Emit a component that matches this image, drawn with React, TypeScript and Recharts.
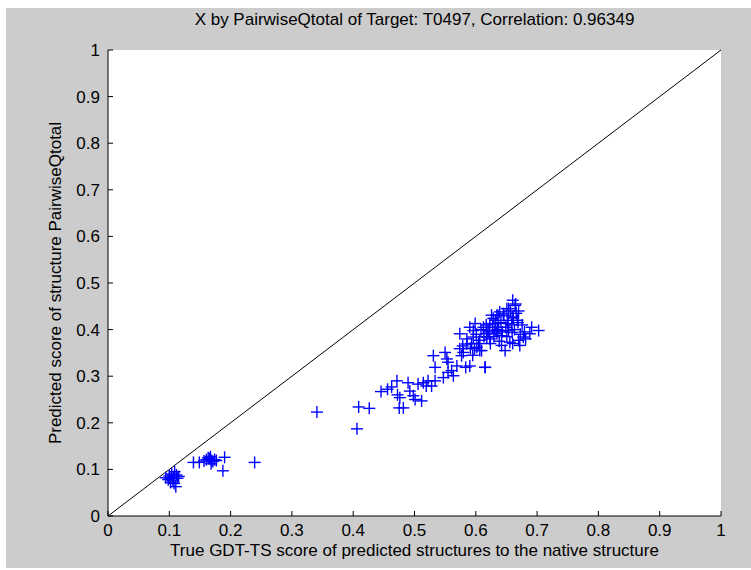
import React from 'react';
import { ScatterChart, Scatter, XAxis, YAxis, CartesianGrid } from 'recharts';

const xValues = [
  0.0943, 0.0982, 0.1001, 0.1020, 0.1039, 0.1058, 0.1068, 0.1087, 0.1106, 0.1116, 0.1135, 0.1154, 0.1020, 0.1077,
  0.1394, 0.1490, 0.1567, 0.1605, 0.1634, 0.1653, 0.1682, 0.1691, 0.1711, 0.1739, 0.1768, 0.1672, 0.1902, 0.1874, 0.2392,
  0.3408, 0.4061, 0.4089, 0.4262,
  0.4454, 0.4560, 0.4627, 0.4713, 0.4723, 0.4751, 0.4818, 0.4761, 0.4895, 0.4924, 0.4981, 0.5010, 0.5116, 0.5058,
  0.5144, 0.5221, 0.5279, 0.5192, 0.5336, 0.5308, 0.5336, 0.5471, 0.5528, 0.5547, 0.5499, 0.5547, 0.5605, 0.5634,
  0.5691, 0.5739, 0.5768, 0.5797, 0.5835, 0.5739, 0.5854, 0.5902, 0.5960, 0.5979, 0.6065, 0.6152, 0.6180, 0.6200,
  0.6257, 0.6315, 0.6344,
  0.7025, 0.6910, 0.6881, 0.6718, 0.6698, 0.6602, 0.6641, 0.6698, 0.6535, 0.6449, 0.6391, 0.6344, 0.6286, 0.6228,
  0.6123, 0.5989, 0.5960, 0.6478, 0.6555, 0.6420, 0.6593, 0.6516, 0.6372, 0.6180, 0.6152, 0.6017, 0.6094, 0.5902,
  0.5931, 0.6065, 0.6679, 0.6593, 0.6775, 0.6535, 0.6420, 0.6315, 0.6228,
  0.5787, 0.5854, 0.5912, 0.5950, 0.6008, 0.6046, 0.6085, 0.6133, 0.6171, 0.6219, 0.6238, 0.6276, 0.6295, 0.6324,
  0.6353, 0.6382, 0.6411, 0.6430, 0.6459, 0.6487, 0.6507, 0.6526, 0.6564, 0.6583, 0.6612, 0.6631, 0.6660, 0.6689,
  0.6727, 0.6756, 0.6794, 0.6813, 0.6650, 0.6507, 0.6363, 0.6602,
];

const yValues = [
  0.082, 0.078, 0.086, 0.080, 0.090, 0.076, 0.084, 0.095, 0.063, 0.088, 0.081, 0.085, 0.072, 0.070,
  0.115, 0.115, 0.118, 0.121, 0.125, 0.123, 0.112, 0.119, 0.117, 0.121, 0.119, 0.127, 0.126, 0.097, 0.115,
  0.223, 0.187, 0.234, 0.231,
  0.267, 0.272, 0.277, 0.290, 0.260, 0.232, 0.232, 0.254, 0.286, 0.268, 0.258, 0.250, 0.247, 0.283,
  0.286, 0.290, 0.279, 0.279, 0.290, 0.344, 0.319, 0.297, 0.337, 0.330, 0.351, 0.308, 0.312, 0.301,
  0.322, 0.359, 0.344, 0.351, 0.319, 0.391, 0.369, 0.405, 0.384, 0.359, 0.355, 0.319, 0.384, 0.398,
  0.431, 0.413, 0.391,
  0.398, 0.405, 0.391, 0.366, 0.377, 0.463, 0.452, 0.440, 0.445, 0.434, 0.438, 0.431, 0.424, 0.413,
  0.405, 0.413, 0.398, 0.355, 0.373, 0.387, 0.394, 0.413, 0.405, 0.391, 0.319, 0.362, 0.355, 0.322,
  0.370, 0.377, 0.420, 0.427, 0.384, 0.398, 0.366, 0.398, 0.380,
  0.365, 0.380, 0.360, 0.345, 0.390, 0.370, 0.400, 0.385, 0.410, 0.395, 0.370, 0.405, 0.385, 0.420,
  0.400, 0.375, 0.415, 0.395, 0.430, 0.405, 0.385, 0.420, 0.440, 0.410, 0.425, 0.400, 0.435, 0.415,
  0.390, 0.410, 0.395, 0.380, 0.455, 0.445, 0.430, 0.370,
];

const tickValues = [0, 0.1, 0.2, 0.3, 0.4, 0.5, 0.6, 0.7, 0.8, 0.9, 1];
const diagonalX = [0, 1];
const diagonalY = [0, 1];

const titleText = 'X by PairwiseQtotal of Target: T0497, Correlation: 0.96349';
const xLabelText = 'True GDT-TS score of predicted structures to the native structure';
const yLabelText = 'Predicted score of structure PairwiseQtotal';

const points = xValues.map((x, i) => ({ x, y: yValues[i] }));
const diagonal = diagonalX.map((x, i) => ({ x, y: diagonalY[i] }));

const FONT = '"Liberation Sans", Arial, Helvetica, sans-serif';
const tickStyle = { fill: '#000', fontSize: 17, fontFamily: FONT };

const Plus = (props: any) => {
  const { cx, cy } = props;
  if (cx == null || cy == null) return <g />;
  return (
    <g>
      <line x1={cx - 6} y1={cy} x2={cx + 6} y2={cy} stroke="#0000ff" strokeWidth={1.4} />
      <line x1={cx} y1={cy - 6} x2={cx} y2={cy + 6} stroke="#0000ff" strokeWidth={1.4} />
    </g>
  );
};

const Nothing = () => <g />;

export default function App() {
  return (
    <div style={{ position: 'absolute', left: 0, top: 0, width: 751, height: 570, background: '#ffffff' }}>
      <div style={{ position: 'absolute', left: 6, top: 8, width: 745, height: 560, background: '#cccccc' }} />
      <div style={{ position: 'absolute', left: 0, top: 0 }}>
        <ScatterChart width={751} height={570} margin={{ top: 50, right: 30, bottom: 24, left: 48 }}>
          <CartesianGrid horizontal={false} vertical={false} fill="#ffffff" stroke="none" />
          <XAxis
            xAxisId="b"
            dataKey="x"
            type="number"
            domain={[0, 1]}
            ticks={tickValues}
            interval={0}
            height={30}
            tickSize={-5}
            tickMargin={13}
            axisLine={{ stroke: '#000', strokeWidth: 1 }}
            tickLine={{ stroke: '#000', strokeWidth: 1 }}
            tick={tickStyle}
            label={{ value: xLabelText, position: 'bottom', offset: -2, style: { fill: '#000', fontSize: 17, fontFamily: FONT } }}
          />
          <YAxis
            yAxisId="l"
            dataKey="y"
            type="number"
            domain={[0, 1]}
            ticks={tickValues}
            interval={0}
            width={60}
            tickSize={-5}
            tickMargin={13}
            axisLine={{ stroke: '#000', strokeWidth: 1 }}
            tickLine={{ stroke: '#000', strokeWidth: 1 }}
            tick={tickStyle}
            label={{ value: yLabelText, angle: -90, position: 'insideLeft', offset: 7, style: { textAnchor: 'middle', fill: '#000', fontSize: 17, fontFamily: FONT } }}
          />
          <XAxis
            xAxisId="t"
            orientation="top"
            dataKey="x"
            type="number"
            domain={[0, 1]}
            ticks={tickValues}
            interval={0}
            height={0}
            tickSize={5}
            tick={false}
            axisLine={{ stroke: '#000', strokeWidth: 1 }}
            tickLine={{ stroke: '#000', strokeWidth: 1 }}
            mirror
          />
          <YAxis
            yAxisId="r"
            orientation="right"
            dataKey="y"
            type="number"
            domain={[0, 1]}
            ticks={tickValues}
            interval={0}
            width={0}
            tickSize={5}
            tick={false}
            mirror
            axisLine={{ stroke: '#000', strokeWidth: 1 }}
            tickLine={{ stroke: '#000', strokeWidth: 1 }}
          />
          <Scatter
            xAxisId="t"
            yAxisId="r"
            data={diagonal}
            line={{ stroke: '#000', strokeWidth: 1 }}
            shape={Nothing}
            legendType="none"
            isAnimationActive={false}
          />
          <Scatter
            xAxisId="b"
            yAxisId="l"
            data={points}
            shape={Plus}
            isAnimationActive={false}
          />
        </ScatterChart>
      </div>
      <svg width={751} height={50} style={{ position: 'absolute', left: 0, top: 0, pointerEvents: 'none' }}>
        <text x={414.5} y={25} textAnchor="middle" fill="#000" fontSize={17} fontFamily={FONT}>
          {titleText}
        </text>
      </svg>
    </div>
  );
}
